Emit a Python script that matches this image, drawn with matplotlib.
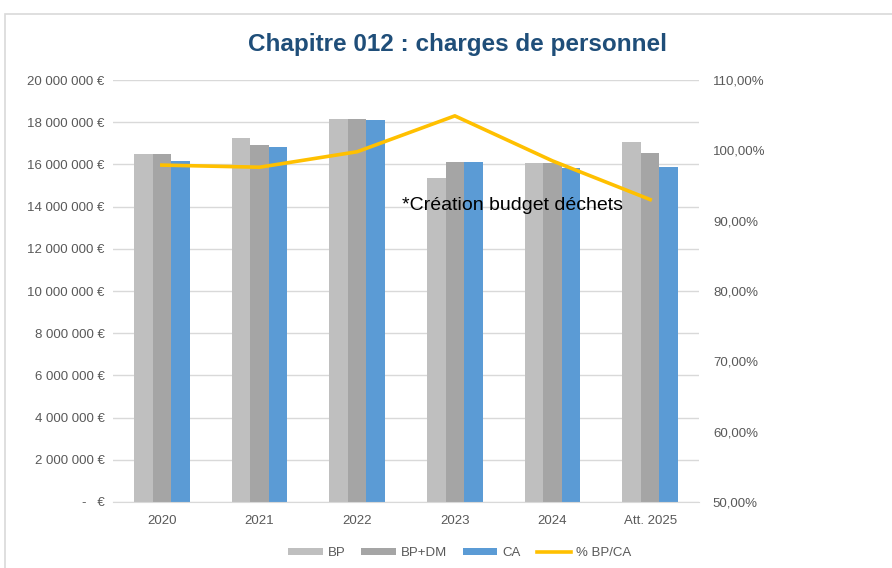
import numpy as np
import matplotlib.pyplot as plt
from matplotlib.patches import Rectangle
from matplotlib.ticker import FuncFormatter

plt.rcParams['font.family'] = ['Liberation Sans', 'DejaVu Sans']

years = ["2020", "2021", "2022", "2023", "2024", "Att. 2025"]
bp = [16.49e6, 17.25e6, 18.17e6, 15.36e6, 16.08e6, 17.06e6]
bp_dm = [16.49e6, 16.92e6, 18.17e6, 16.12e6, 16.08e6, 16.54e6]
ca = [16.16e6, 16.82e6, 18.12e6, 16.12e6, 15.83e6, 15.88e6]
pct = [97.9, 97.6, 99.8, 104.9, 98.5, 93.0]

c_bp = "#BFBFBF"
c_dm = "#A5A5A5"
c_ca = "#5B9BD5"
c_line = "#FFC000"
txt = "#595959"

fig = plt.figure(figsize=(8.92, 5.68), dpi=100)
# chart frame (cropped excel chart)
fig.patches.append(Rectangle((5 / 892, -0.1), 1.2, (568 - 14) / 568 + 0.1,
                             transform=fig.transFigure, fill=False,
                             edgecolor="#D9D9D9", linewidth=1.2))

ax = fig.add_axes([113 / 892, 66 / 568, 586 / 892, 422 / 568])
x = np.arange(len(years))
w = 0.19
ax.bar(x - w, bp, w, color=c_bp, label="BP", zorder=2)
ax.bar(x, bp_dm, w, color=c_dm, label="BP+DM", zorder=2)
ax.bar(x + w, ca, w, color=c_ca, label="CA", zorder=2)

ax.set_xlim(-0.5, len(years) - 0.5)
ax.set_ylim(0, 20e6)
ax.set_yticks(np.arange(0, 20e6 + 1, 2e6))
ax.grid(axis="y", color="#D9D9D9", linewidth=1, zorder=0)
ax.set_axisbelow(True)


def euro(v, pos):
    if v == 0:
        return "-   €"
    return f"{int(v):,} €".replace(",", " ")


ax.yaxis.set_major_formatter(FuncFormatter(euro))
ax.set_xticks(x)
ax.set_xticklabels(years)
ax.tick_params(axis="both", length=0, labelsize=9.5, colors=txt)
ax.tick_params(axis="y", pad=6)
ax.tick_params(axis="x", pad=9)
for s in ["top", "right", "left"]:
    ax.spines[s].set_visible(False)
ax.spines["bottom"].set_color("#D9D9D9")

ax2 = ax.twinx()
ax2.plot(x, pct, color=c_line, linewidth=2.6, label="% BP/CA", zorder=3)
ax2.set_ylim(50, 110)
ax2.set_yticks(np.arange(50, 111, 10))
ax2.yaxis.set_major_formatter(FuncFormatter(lambda v, p: f"{v:.2f}%".replace(".", ",")))
ax2.tick_params(axis="y", length=0, labelsize=9.5, colors=txt, pad=10)
for s in ax2.spines.values():
    s.set_visible(False)

fig.text(457 / 892, 1 - 45 / 568, "Chapitre 012 : charges de personnel",
         ha="center", va="center", fontsize=17.5, fontweight="bold", color="#1F4E79")

fig.text(402 / 892, 1 - 205 / 568, "*Création budget déchets",
         ha="left", va="center", fontsize=14, color="#000000")

h1, l1 = ax.get_legend_handles_labels()
h2, l2 = ax2.get_legend_handles_labels()
fig.legend(h1 + h2, l1 + l2, loc="center", bbox_to_anchor=(460 / 892, 1 - 553 / 568),
           ncol=4, frameon=False, fontsize=9.5, labelcolor=txt,
           handlelength=2.6, handleheight=0.5, columnspacing=1.2, handletextpad=0.4)

fig.savefig("out.png", dpi=100)
